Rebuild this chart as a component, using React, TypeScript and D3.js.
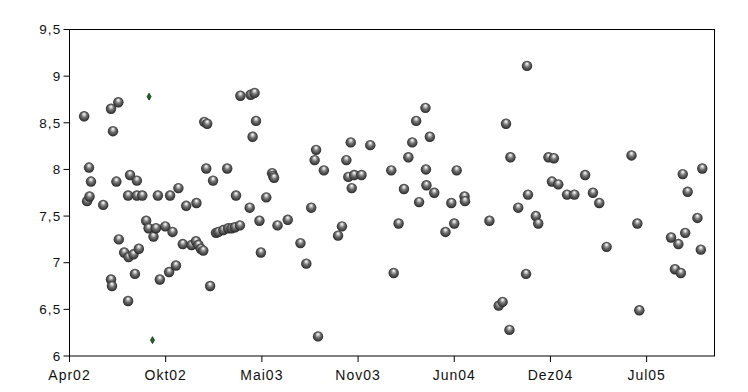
import React from 'react';
import * as d3 from 'd3';

// axis setup (Excel-style date axis, ticks every 197 days)
const startDate = new Date(2002, 3, 15);
const spanDays = 1321;
const tickStepDays = 197;
const tickLabels = ['Apr02', 'Okt02', 'Mai03', 'Nov03', 'Jun04', 'Dez04', 'Jul05'];
const yTicks = [6, 6.5, 7, 7.5, 8, 8.5, 9, 9.5];

// main series: days since 15.04.2002 and measured value
const dayOffsets = [
  30, 36, 41, 40, 44, 69, 85, 85, 87, 89, 96, 100, 101, 112, 120, 120, 121, 124, 131, 134,
  138, 138, 142, 149, 157, 162, 172, 177, 181, 185, 196, 204, 206, 211, 218, 223, 232, 239, 250, 259,
  260, 264, 269, 274, 276, 280, 282, 288, 294, 300, 305, 315, 323, 325, 332, 339, 341, 349, 350, 369,
  371, 375, 379, 382, 389, 392, 403, 415, 417, 419, 426, 447, 473, 485, 495, 502, 505, 509, 521, 550,
  558, 567, 571, 576, 578, 583, 598, 616, 659, 664, 674, 685, 694, 702, 710, 716, 729, 730, 731, 738,
  747, 770, 782, 788, 793, 809, 810, 860, 879, 887, 894, 901, 903, 919, 935, 937, 939, 955, 960, 981,
  988, 992, 1001, 1019, 1034, 1056, 1072, 1085, 1100, 1151, 1163, 1167, 1232, 1240, 1247, 1252, 1256, 1261, 1266, 1286,
  1293, 1296,
];
const values = [
  8.57, 7.66, 7.71, 8.02, 7.87, 7.62, 8.65, 6.82, 6.75, 8.41, 7.87, 8.72, 7.25, 7.11, 7.72, 6.59, 7.06, 7.94, 7.09, 6.88,
  7.88, 7.72, 7.15, 7.72, 7.45, 7.37, 7.28, 7.37, 7.72, 6.82, 7.39, 6.9, 7.72, 7.33, 6.97, 7.8, 7.2, 7.61, 7.19, 7.23,
  7.64, 7.19, 7.15, 7.13, 8.51, 8.01, 8.49, 6.75, 7.88, 7.32, 7.33, 7.35, 8.01, 7.37, 7.37, 7.38, 7.72, 7.4, 8.79, 7.59,
  8.8, 8.35, 8.82, 8.52, 7.45, 7.11, 7.7, 7.96, 7.93, 7.91, 7.4, 7.46, 7.21, 6.99, 7.59, 8.1, 8.21, 6.21, 7.99, 7.29,
  7.39, 8.1, 7.92, 8.29, 7.8, 7.94, 7.94, 8.26, 7.99, 6.89, 7.42, 7.79, 8.13, 8.29, 8.52, 7.65, 8.66, 8.0, 7.83, 8.35,
  7.75, 7.33, 7.64, 7.42, 7.99, 7.71, 7.66, 7.45, 6.54, 6.58, 8.49, 6.28, 8.13, 7.59, 6.88, 9.11, 7.73, 7.5, 7.42, 8.13,
  7.87, 8.12, 7.84, 7.73, 7.73, 7.94, 7.75, 7.64, 7.17, 8.15, 7.42, 6.49, 7.27, 6.93, 7.2, 6.89, 7.95, 7.32, 7.76, 7.48,
  7.14, 8.01,
];

// second small series (green markers)
const markerDays = [163, 170];
const markerValues = [8.78, 6.17];

const width = 748;
const height = 392;
const plot = { left: 69.5, top: 29.5, right: 714.5, bottom: 356 };

export default function App() {
  const x = d3.scaleTime()
    .domain([startDate, d3.timeDay.offset(startDate, spanDays)])
    .range([plot.left, plot.right]);
  const y = d3.scaleLinear().domain([6, 9.5]).range([plot.bottom, plot.top]);

  const xTicks = tickLabels.map((label, i) => ({
    label,
    date: d3.timeDay.offset(startDate, i * tickStepDays),
  }));
  const points = dayOffsets.map((d, i) => ({ date: d3.timeDay.offset(startDate, d), v: values[i] }));
  const markers = markerDays.map((d, i) => ({ date: d3.timeDay.offset(startDate, d), v: markerValues[i] }));
  const diamond = d3.symbol().type(d3.symbolDiamond).size(14)();
  const fmt = (v) => String(v).replace('.', ',');

  return (
    <div style={{ position: 'absolute', left: 0, top: 0 }}>
      <svg width={width} height={height} style={{ display: 'block', background: '#fff' }}
        fontFamily="'Liberation Sans', Arial, sans-serif">
        <defs>
          <radialGradient id="ball" cx="0.5" cy="0.5" r="0.52" fx="0.5" fy="0.25">
            <stop offset="0%" stopColor="#ffffff" />
            <stop offset="18%" stopColor="#d6d6d6" />
            <stop offset="50%" stopColor="#707070" />
            <stop offset="80%" stopColor="#444444" />
            <stop offset="100%" stopColor="#1e1e1e" />
          </radialGradient>
        </defs>
        <rect x={plot.left} y={plot.top} width={plot.right - plot.left} height={plot.bottom - plot.top}
          fill="#fff" stroke="#000" strokeWidth={1} />

        {/* y axis */}
        {yTicks.map(t => (
          <g key={t} transform={`translate(0,${y(t)})`}>
            <line x1={plot.left - 6} x2={plot.left} stroke="#000" />
            <text x={plot.left - 8} dy="0.35em" textAnchor="end" fontSize={13.5} letterSpacing={1.2} fill="#111">{fmt(t)}</text>
          </g>
        ))}

        {/* x axis */}
        {xTicks.map(t => (
          <g key={t.label} transform={`translate(${x(t.date)},0)`}>
            <line y1={plot.bottom} y2={plot.bottom + 6} stroke="#000" />
            <text y={plot.bottom + 24} textAnchor="middle" fontSize={14} letterSpacing={1} fill="#111">{t.label}</text>
          </g>
        ))}

        {points.map((p, i) => (
          <circle key={i} cx={x(p.date)} cy={y(p.v)} r={5.2} fill="url(#ball)" />
        ))}
        {markers.map((p, i) => (
          <path key={i} d={diamond} transform={`translate(${x(p.date)},${y(p.v)})`}
            fill="#1f6b2a" stroke="#0a2a10" strokeWidth={0.8} />
        ))}
      </svg>
    </div>
  );
}
